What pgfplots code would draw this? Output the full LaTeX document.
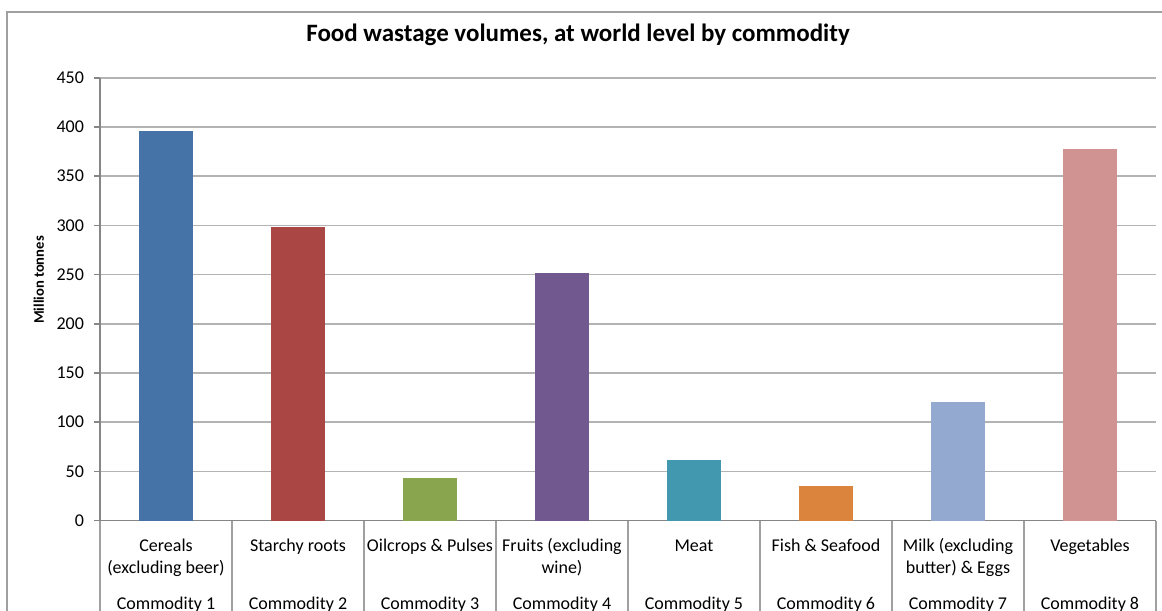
\documentclass[border=0pt]{standalone}
\usepackage{fontspec}
\setmainfont{Carlito}
\usepackage{pgfplots}
\pgfplotsset{compat=1.18}

\definecolor{cCereal}{HTML}{4572A7}
\definecolor{cRoots}{HTML}{AA4643}
\definecolor{cOil}{HTML}{89A54E}
\definecolor{cFruit}{HTML}{71588F}
\definecolor{cMeat}{HTML}{4198AF}
\definecolor{cFish}{HTML}{DB843D}
\definecolor{cMilk}{HTML}{93A9CF}
\definecolor{cVeg}{HTML}{D19392}
\definecolor{gridgray}{RGB}{179,179,179}
\definecolor{axisgray}{RGB}{134,134,134}
\definecolor{framegray}{RGB}{160,160,160}

\begin{document}
\begin{tikzpicture}
\useasboundingbox (0,0) rectangle (581bp,305.5bp);
\clip (0,0) rectangle (581bp,305.5bp);
% chart area frame
\draw[framegray, line width=0.9bp] (3.5bp,-10bp) |- (600bp,299.5bp);
\begin{axis}[
  at={(50bp,45.25bp)}, anchor=south west,
  scale only axis, width=528bp, height=221.4bp,
  xmin=-0.5, xmax=7.5, ymin=0, ymax=450,
  clip=false,
  axis x line*=bottom, axis y line*=left,
  axis line style={draw=axisgray, line width=0.8bp},
  ymajorgrids, grid style={draw=gridgray, line width=0.8bp},
  ytick={0,50,...,450},
  tick align=outside, major tick length=3bp,
  tick style={draw=axisgray, line width=0.8bp},
  xtick={0,...,7}, xtick style={draw=none},
  xticklabels={
    {\strut Cereals\\(excluding beer)\\[7bp]Commodity 1},
    {\strut Starchy roots\\\strut\\[7bp]Commodity 2},
    {\strut Oilcrops \& Pulses\\\strut\\[7bp]Commodity 3},
    {\strut Fruits (excluding\\wine)\\[7bp]Commodity 4},
    {\strut Meat\\\strut\\[7bp]Commodity 5},
    {\strut Fish \& Seafood\\\strut\\[7bp]Commodity 6},
    {\strut Milk (excluding\\butter) \& Eggs\\[7bp]Commodity 7},
    {\strut Vegetables\\\strut\\[7bp]Commodity 8}},
  xticklabel style={font=\fontsize{9bp}{11bp}\selectfont, align=center,
    anchor=north, yshift=-1.5bp},
  yticklabel style={font=\fontsize{9bp}{11bp}\selectfont, xshift=-1.5bp},
  /pgf/number format/assume math mode=true,
  ylabel={Million tonnes},
  ylabel style={font=\bfseries\fontsize{7.3bp}{8bp}\selectfont,
    at={(axis description cs:-0.058,0.543)}, anchor=center},
  title={Food wastage volumes, at world level by commodity},
  title style={font=\bfseries\fontsize{12.5bp}{14bp}\selectfont,
    at={(axis description cs:0.4527,1.069)}, anchor=center},
  every axis plot/.append style={ybar, bar width=0.41, bar shift=0pt, draw=none},
]
\addplot[fill=cCereal] coordinates {(0,396)};
\addplot[fill=cRoots]  coordinates {(1,298)};
\addplot[fill=cOil]    coordinates {(2,43)};
\addplot[fill=cFruit]  coordinates {(3,252)};
\addplot[fill=cMeat]   coordinates {(4,61)};
\addplot[fill=cFish]   coordinates {(5,35)};
\addplot[fill=cMilk]   coordinates {(6,120)};
\addplot[fill=cVeg]    coordinates {(7,378)};
% separators of the category table
\pgfplotsinvokeforeach{-0.5,0.5,1.5,2.5,3.5,4.5,5.5,6.5,7.5}{
  \draw[framegray, line width=0.8bp] (axis cs:#1,0) -- ([yshift=-60bp]axis cs:#1,0);
}
\end{axis}
\end{tikzpicture}
\end{document}
